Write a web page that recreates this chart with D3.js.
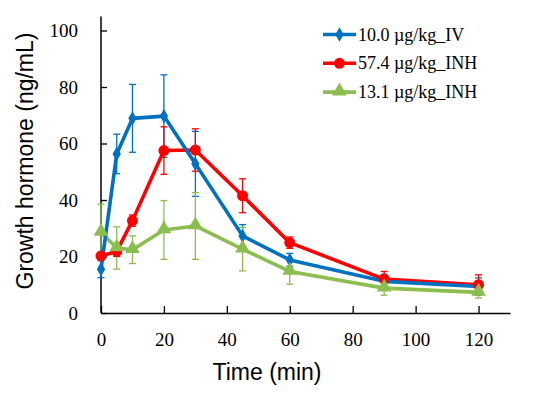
<!doctype html>
<html lang="en">
<head>
  <meta charset="utf-8">
  <title>Growth hormone</title>
  <style>
   body { margin: 0; background: #fff; }
   .axtitle { font-family: "Liberation Sans", Arial, sans-serif; font-size: 23px; fill: #000; }
   .legtext { font-family: "Liberation Serif", "Times New Roman", serif; font-size: 18px; fill: #000; }
  </style>
</head>
<body>
<svg id="chart" width="550" height="397" xmlns="http://www.w3.org/2000/svg"></svg>
<script src="https://d3js.org/d3.v7.min.js"></script>
<script>
 // sampling times (min)
 var times = [0, 5, 10, 20, 30, 45, 60, 90, 120];

 var ivMean = [15.5, 56.3, 68.9, 69.7, 52.8, 27.3, 18.8, 11.2, 9.4];
 var ivErr  = [3.0, 7.0, 12.0, 14.6, 11.5, 4.0, 2.3, 2.5, 3.0];

 var inhHighMean = [20.2, 21.8, 32.7, 57.5, 57.7, 41.5, 24.9, 12.0, 10.0];
 var inhHighErr  = [1.0, 1.8, 2.0, 8.4, 7.5, 6.0, 2.0, 2.7, 3.5];

 var inhLowMean = [28.5, 23.0, 22.4, 29.4, 30.8, 22.6, 14.7, 8.8, 7.3];
 var inhLowErr  = [10.0, 7.5, 4.9, 10.4, 11.8, 7.7, 4.5, 2.5, 2.0];

 var seriesNames = ["10.0 \u00b5g/kg_IV", "57.4 \u00b5g/kg_INH", "13.1 \u00b5g/kg_INH"];
 var xTicks = [0, 20, 40, 60, 80, 100, 120];
 var yTicks = [0, 20, 40, 60, 80, 100];

 var series = [
   {name: seriesNames[0], mean: ivMean, err: ivErr, color: "#0070c0", marker: "diamond"},
   {name: seriesNames[1], mean: inhHighMean, err: inhHighErr, color: "#ff0000", marker: "circle"},
   {name: seriesNames[2], mean: inhLowMean, err: inhLowErr, color: "#8cbd4f", marker: "triangle"}
 ];

 var svg = d3.select("#chart");

 var x = d3.scaleLinear().domain([0, 130]).range([101, 510]);
 var y = d3.scaleLinear().domain([0, 100]).range([313, 30.5]);

 function styleAxis(g) {
     g.attr("font-family", null).attr("font-size", null);
     g.selectAll(".tick line").attr("stroke-width", 1.3);
     g.selectAll(".tick text")
      .style("font-family", "'Liberation Serif', 'Times New Roman', serif")
      .style("font-size", "19px")
      .attr("fill", "#000");
 }

 // axes, ticks pointing inward like the original
 svg.append("g")
    .attr("transform", "translate(0,313)")
    .call(d3.axisBottom(x).tickValues(xTicks).tickSizeInner(-7).tickSizeOuter(0).tickPadding(20))
    .call(styleAxis)
    .call(function(g) { g.select(".domain").attr("stroke-width", 1.5); });

 svg.append("g")
    .attr("transform", "translate(101,0)")
    .call(d3.axisLeft(y).tickValues(yTicks).tickSizeInner(-6).tickSizeOuter(0).tickPadding(23))
    .call(styleAxis)
    .call(function(g) {
        g.select(".domain").attr("d", "M0," + y(105) + "V313").attr("stroke-width", 1.5);
    });

 svg.append("text")
    .attr("class", "axtitle")
    .attr("x", 267).attr("y", 380)
    .attr("text-anchor", "middle")
    .text("Time (min)");

 svg.append("text")
    .attr("class", "axtitle")
    .attr("transform", "translate(33,161) rotate(-90)")
    .attr("text-anchor", "middle")
    .text("Growth hormone (ng/mL)");

 function drawMarker(sel, kind, color, cx, cy) {
     if (kind == "diamond") {
         sel.append("path")
            .attr("d", d3.symbol(d3.symbolDiamond, 60)())
            .attr("transform", "translate(" + cx + "," + cy + ")")
            .attr("fill", color);
     } else if (kind == "circle") {
         sel.append("circle")
            .attr("cx", cx).attr("cy", cy).attr("r", 5.5)
            .attr("fill", color);
     } else {
         sel.append("path")
            .attr("d", d3.symbol(d3.symbolTriangle, 95)())
            .attr("transform", "translate(" + cx + "," + (cy - 1) + ")")
            .attr("fill", color);
     }
 }

 var line = d3.line()
              .x(function(d, i) { return x(times[i]); })
              .y(function(d) { return y(d); });

 // error bars
 series.forEach(function(s) {
     var g = svg.append("g").attr("stroke", s.color).attr("stroke-width", 1.3);
     s.mean.forEach(function(m, i) {
         var cx = x(times[i]);
         var top = y(m + s.err[i]), bot = y(m - s.err[i]);
         g.append("line").attr("x1", cx).attr("x2", cx).attr("y1", top).attr("y2", bot);
         g.append("line").attr("x1", cx - 3.5).attr("x2", cx + 3.5).attr("y1", top).attr("y2", top);
         g.append("line").attr("x1", cx - 3.5).attr("x2", cx + 3.5).attr("y1", bot).attr("y2", bot);
     });
 });

 // lines, then markers
 series.slice().reverse().forEach(function(s) {
     svg.append("path")
        .attr("d", line(s.mean))
        .attr("fill", "none")
        .attr("stroke", s.color)
        .attr("stroke-width", 3.6)
        .attr("stroke-linejoin", "round");
 });
 series.forEach(function(s) {
     var g = svg.append("g");
     s.mean.forEach(function(m, i) {
         drawMarker(g, s.marker, s.color, x(times[i]), y(m));
     });
 });

 // legend
 var legend = svg.append("g");
 series.forEach(function(s, i) {
     var ly = 34.5 + i * 28.8;
     legend.append("line")
           .attr("x1", 323).attr("x2", 356).attr("y1", ly).attr("y2", ly)
           .attr("stroke", s.color).attr("stroke-width", 3.6);
     drawMarker(legend, s.marker, s.color, 339.5, ly);
     legend.append("text")
           .attr("class", "legtext")
           .attr("x", 358).attr("y", ly + 6)
           .text(s.name);
 });
</script>
</body>
</html>
